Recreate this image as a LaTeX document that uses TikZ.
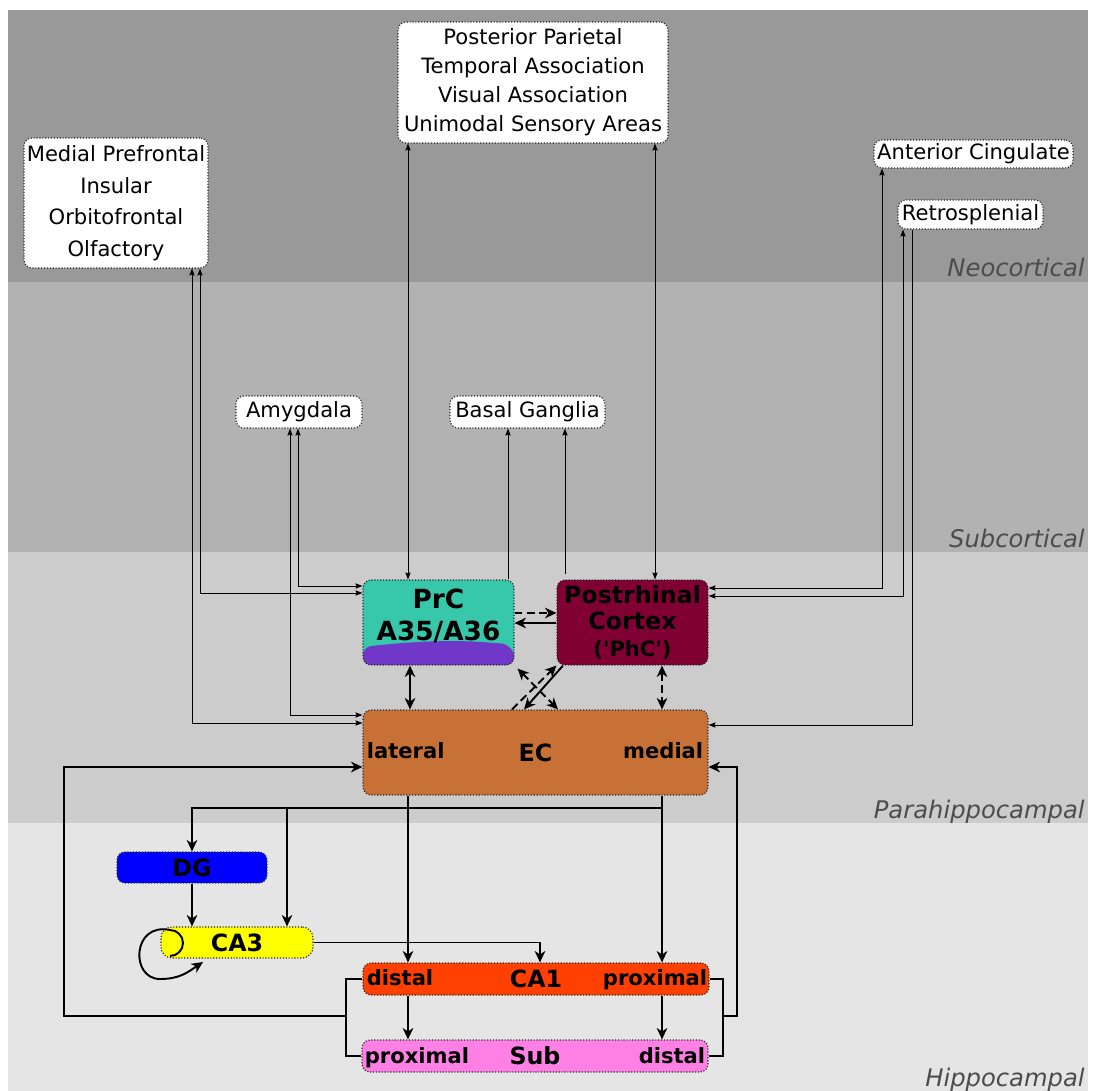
\documentclass[tikz,border=0pt]{standalone}
\usepackage{fontspec}
\setmainfont{DejaVu Sans}
\usetikzlibrary{arrows.meta, calc}

\definecolor{prcteal}{HTML}{37C8AB}
\definecolor{prcpurple}{HTML}{7137C8}
\definecolor{phcred}{HTML}{800033}
\definecolor{ecbrown}{HTML}{C87137}
\definecolor{dgblue}{HTML}{0000FF}
\definecolor{cathree}{HTML}{FFFF00}
\definecolor{caone}{HTML}{FF4000}
\definecolor{subpink}{HTML}{FF80E5}

\begin{document}
\begin{tikzpicture}[x=0.02cm, y=-0.02cm]
  % Styles for the boxes and the connectors
  %   region   = coloured box with a dotted rim
  %   area     = white box of a cortical / subcortical area
  %   thinarr  = projections from and to the areas
  %   thickarr = the medial temporal loop itself
  \tikzset{
    region/.style={draw=black!85, densely dotted, line width=0.65pt,
      rounded corners=0.16cm, inner sep=1pt,
      font=\bfseries\fontsize{13.5}{15}\selectfont},
    area/.style={region, fill=white, align=center,
      font=\fontsize{12}{16.5}\selectfont},
    sidelabel/.style={font=\bfseries\fontsize{12}{14}\selectfont, inner sep=0pt},
    layername/.style={anchor=base east, text=black!70, inner sep=0pt,
      font=\itshape\fontsize{13.8}{16}\selectfont},
    thinarr/.style={line width=0.5pt,
      >={Stealth[length=4pt, width=3pt, inset=0.6pt]}},
    thickarr/.style={line width=1.1pt,
      >={Stealth[length=6.5pt, width=6pt, inset=2pt]}},
    dashedarr/.style={thickarr, dash pattern=on 4.5pt off 2.5pt},
  }

  \fill[white] (0,0) rectangle (1093,1091);
  \useasboundingbox (0,0) rectangle (1093,1091);

  % Background layers, top to bottom
  \foreach \ytop/\ybot/\shade/\layer in {
    10/282/40/Neocortical,
    282/552/30/Subcortical,
    552/823/20/Parahippocampal,
    823/1091/10/Hippocampal
  }{
    \fill[black!\shade] (8,\ytop) rectangle (1088,\ybot);
    \node[layername] (\layer) at (1085,\ybot-5) {\layer};
  }

  % Cortical and subcortical areas
  \node[area, minimum width=5.4cm, minimum height=2.42cm] (assoc) at (533,82.5)
    {Posterior Parietal\\Temporal Association\\Visual Association\\Unimodal Sensory Areas};
  \node[area, minimum width=3.68cm, minimum height=2.6cm,
    font=\fontsize{12}{18}\selectfont] (prefrontal) at (116,203)
    {Medial Prefrontal\\Insular\\Orbitofrontal\\Olfactory};
  \node[area, minimum width=3.98cm, minimum height=0.56cm] (cingulate) at (973.5,154)
    {Anterior Cingulate};
  \node[area, minimum width=2.9cm, minimum height=0.58cm] (retro) at (970.5,214.5)
    {Retrosplenial};
  \node[area, minimum width=2.52cm, minimum height=0.64cm] (amygdala) at (299,412)
    {Amygdala};
  \node[area, minimum width=3.1cm, minimum height=0.64cm] (basal) at (527.5,412)
    {Basal Ganglia};

  % Parahippocampal region
  \node[region, fill=prcteal, minimum width=3.02cm, minimum height=1.7cm,
    path picture={\fill[prcpurple]
      ([yshift=0.36cm]path picture bounding box.south west)
      .. controls +(1.2cm,0.14cm) and +(-0.6cm,0.05cm)
      .. ([xshift=-0.4cm, yshift=0.44cm]path picture bounding box.south east)
      .. controls +(0.3cm,-0.02cm) and +(0,0.2cm)
      .. ([yshift=0.05cm]path picture bounding box.south east)
      |- (path picture bounding box.south west) -- cycle;}]
    (prc) at (438.5,622.5) {};
  \node[align=center, inner sep=0pt, font=\bfseries\fontsize{15}{18}\selectfont]
    (prclabel) at (438.5,616) {PrC\\A35/A36};
  \node[region, fill=phcred, minimum width=3.02cm, minimum height=1.7cm, align=center,
    font=\bfseries\fontsize{13.5}{14.5}\selectfont] (phc) at (632.5,622.5)
    {Postrhinal\\Cortex\\[1pt]{\fontsize{12}{14}\selectfont(\textquotesingle PhC\textquotesingle)}};
  \node[region, fill=ecbrown, minimum width=6.9cm, minimum height=1.7cm] (ec)
    at (535.5,752.5) {EC};
  \node[sidelabel, anchor=base west] (lateral) at ([xshift=0.08cm, yshift=-0.11cm]ec.west) {lateral};
  \node[sidelabel, anchor=base east] (medial) at ([xshift=-0.1cm, yshift=-0.11cm]ec.east) {medial};

  % Hippocampal formation
  \node[region, fill=dgblue, minimum width=3cm, minimum height=0.62cm] (dg)
    at (192,867.5) {DG};
  \node[region, fill=cathree, minimum width=3.04cm, minimum height=0.62cm,
    rounded corners=0.22cm] (ca3) at (237,942.5) {CA3};
  \node[region, fill=caone, minimum width=6.92cm, minimum height=0.64cm] (ca1)
    at (536,979) {CA1};
  \node[sidelabel, anchor=base west] (ca1distal) at ([xshift=0.08cm, yshift=-0.12cm]ca1.west) {distal};
  \node[sidelabel, anchor=base east] (ca1proximal) at ([xshift=-0.04cm, yshift=-0.12cm]ca1.east) {proximal};
  \node[region, fill=subpink, minimum width=6.92cm, minimum height=0.64cm] (sub)
    at (535,1056) {Sub};
  \node[sidelabel, anchor=base west] (subproximal) at ([xshift=0.06cm, yshift=-0.14cm]sub.west) {proximal};
  \node[sidelabel, anchor=base east] (subdistal) at ([xshift=-0.06cm, yshift=-0.14cm]sub.east) {distal};

  % Projections to and from the cortex
  \draw[thinarr, <->] (408,0 |- assoc.south) -- (408,0 |- prc.north);
  \draw[thinarr, <->] (655,0 |- assoc.south) -- (655,0 |- phc.north);
  \draw[thinarr, <->] (200,0 |- prefrontal.south) |- (prc.west |- 0,593);
  \draw[thinarr, <->] (192,0 |- prefrontal.south) |- (ec.west |- 0,723);
  \draw[thinarr, <->] (298,0 |- amygdala.south) |- (prc.west |- 0,586);
  \draw[thinarr, <->] (290,0 |- amygdala.south) |- (ec.west |- 0,715);
  \draw[thinarr, ->] (508,0 |- prc.north) -- (508,0 |- basal.south);
  \draw[thinarr, ->, shorten <=0.1cm] (565,0 |- phc.north) -- (565,0 |- basal.south);
  \draw[thinarr, <->] (882,0 |- cingulate.south) |- (phc.east |- 0,588);
  \draw[thinarr, <->] (903,0 |- retro.south) |- (phc.east |- 0,596);
  \draw[thinarr, ->] (912,0 |- retro.south) |- (ec.east |- 0,725);

  % Within the parahippocampal region
  \draw[dashedarr, ->] (prc.east |- 0,613) -- (phc.west |- 0,613);
  \draw[thickarr, ->] (phc.west |- 0,623) -- (prc.east |- 0,623);
  \draw[thickarr, <->] (410,0 |- prc.south) -- (410,0 |- ec.north);
  \draw[dashedarr, <->] (662,0 |- phc.south) -- (662,0 |- ec.north);
  \draw[dashedarr, <->] ([shift={(0.06cm,-0.06cm)}]prc.south east) -- (558,0 |- ec.north);
  \draw[dashedarr, ->] (512,0 |- ec.north) -- (phc.south west);
  \draw[thickarr, ->] (563,0 |- phc.south) -- (524,0 |- ec.north);

  % Hippocampal circuit
  \coordinate (split) at (662,808);
  \draw[thickarr, ->] (408,0 |- ec.south) -- (408,0 |- ca1.north);
  \draw[thickarr, ->] (662,0 |- ec.south) -- (662,0 |- ca1.north);
  \draw[thickarr, ->] (split) -| (dg.north);
  \draw[thickarr, ->] (287,0 |- split) -- (287,0 |- ca3.north);
  \draw[thickarr, ->] (dg.south) -- (192,0 |- ca3.north);
  \draw[thickarr, ->] (ca3.east) -| (540,0 |- ca1.north);
  \draw[thickarr, ->] (408,0 |- ca1.south) -- (408,0 |- sub.north);
  \draw[thickarr, ->] (662,0 |- ca1.south) -- (662,0 |- sub.north);

  % CA3 recurrent collaterals
  \draw[thickarr] (170,930) arc[start angle=90, end angle=-90, radius=0.26cm];
  \draw[thickarr, ->] (170,930) .. controls (132,922) and (130,979) .. (160,979)
    .. controls (180,979) and (188,972) .. (203,962);

  % Output back to the entorhinal cortex
  \coordinate (leftjoin) at (346,1016);
  \coordinate (rightjoin) at (723,1016);
  \draw[thickarr] (ca1.west) -| (leftjoin) |- (sub.west);
  \draw[thickarr, ->] (leftjoin) -- (64,0 |- leftjoin) |- (ec.west |- 0,767);
  \draw[thickarr] (ca1.east) -| (rightjoin) |- (sub.east);
  \draw[thickarr, ->] (rightjoin) -- (737,0 |- rightjoin) |- (ec.east |- 0,767);
\end{tikzpicture}
\end{document}
